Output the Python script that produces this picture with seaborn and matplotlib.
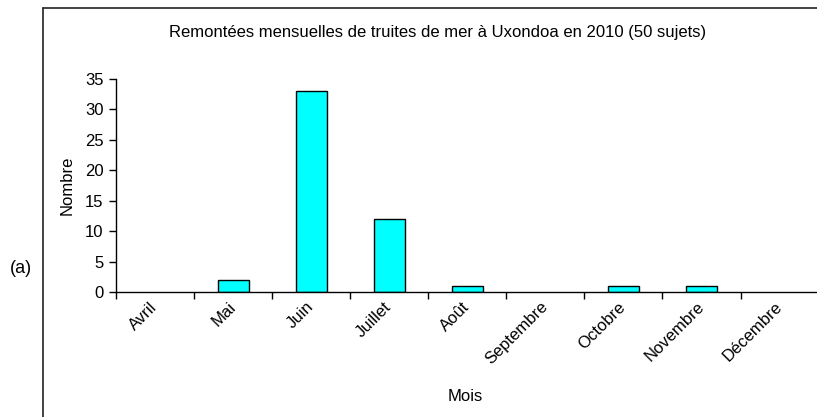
import numpy as np
import seaborn as sns
import matplotlib.pyplot as plt
from matplotlib.lines import Line2D
from matplotlib.transforms import ScaledTranslation

mois = ["Avril", "Mai", "Juin", "Juillet", "Août", "Septembre", "Octobre", "Novembre", "Décembre"]
nombre = [0, 2, 33, 12, 1, 0, 1, 1, 0]
yticks = [0, 5, 10, 15, 20, 25, 30, 35]

sns.set_style("white")
plt.rcParams['font.family'] = ['Liberation Sans', 'DejaVu Sans']
plt.rcParams['text.color'] = 'black'
plt.rcParams['xtick.color'] = 'black'
plt.rcParams['ytick.color'] = 'black'

fig = plt.figure(figsize=(8.17, 4.17), dpi=100)
ax = fig.add_axes([0.142, 0.2998, 0.860, 0.5108])

sns.barplot(x=mois, y=nombre, color="#00FFFF", edgecolor="black", linewidth=1.0,
            width=0.4, saturation=1, ax=ax)
# Excel draws nothing for empty months
for p in ax.patches:
    if p.get_height() == 0:
        p.set_linewidth(0)

ax.set_xlim(-0.5, len(mois) - 0.5)
ax.set_ylim(0, 35)
ax.set_yticks(yticks)
ax.set_yticklabels([str(v) for v in yticks], fontsize=12)
ax.set_xticks(np.arange(len(mois)))
ax.set_xticklabels(mois, fontsize=12, rotation=45, ha="right", va="center",
                   rotation_mode="anchor")
# nudge rotated labels a little to the left, like in the original
shift = ScaledTranslation(-0.05, 0, fig.dpi_scale_trans)
for lab in ax.get_xticklabels():
    lab.set_transform(lab.get_transform() + shift)
ax.set_xticks(np.arange(len(mois) + 1) - 0.5, minor=True)
ax.tick_params(axis="x", which="major", length=0, pad=9)
ax.tick_params(axis="x", which="minor", length=5, width=1, color="black", direction="out", bottom=True)
ax.tick_params(axis="y", length=5, width=1, color="black", direction="out", left=True, pad=4)

for s in ["top", "right"]:
    ax.spines[s].set_visible(False)
for s in ["left", "bottom"]:
    ax.spines[s].set_color("black")
    ax.spines[s].set_linewidth(1.0)

ax.set_xlabel("")
ax.set_ylabel("")
fig.text(0.570, 0.048, "Mois", fontsize=12, ha="center", va="center")
fig.text(0.082, 0.556, "Nombre", fontsize=12, rotation=90, ha="center", va="center")
fig.text(0.535, 0.921, "Remontées mensuelles de truites de mer à Uxondoa en 2010 (50 sujets)",
         fontsize=12, ha="center", va="center")
fig.text(0.026, 0.357, "(a)", fontsize=13, ha="center", va="center")

# outer frame
fig.add_artist(Line2D([0.053, 0.053], [0.0, 0.981], color="#222222", lw=1.2, transform=fig.transFigure))
fig.add_artist(Line2D([0.053, 1.0], [0.981, 0.981], color="#222222", lw=1.2, transform=fig.transFigure))

fig.savefig("out.png", dpi=100)
